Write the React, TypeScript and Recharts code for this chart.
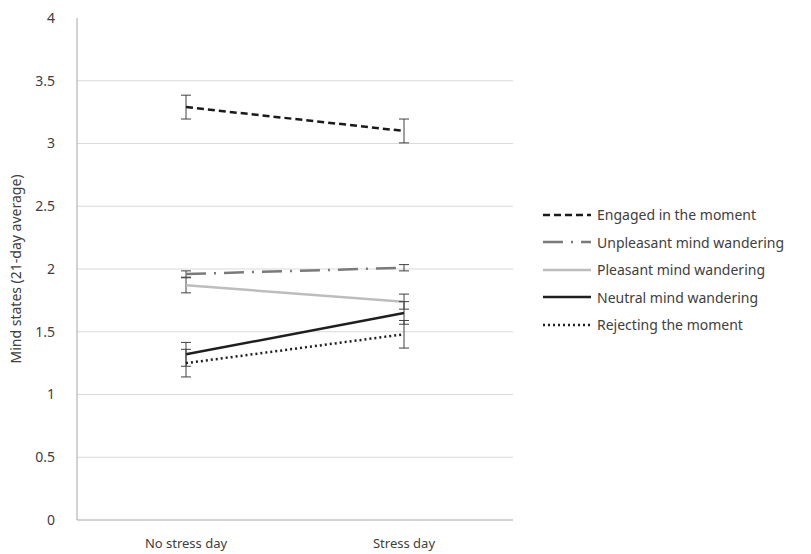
import { CartesianGrid, ErrorBar, Line, LineChart, XAxis, YAxis } from "recharts";

const categories = ["No stress day", "Stress day"];

const engaged = [3.29, 3.1];
const engagedErr = [0.095, 0.095];
const unpleasant = [1.96, 2.01];
const unpleasantErr = [0.025, 0.025];
const pleasant = [1.87, 1.74];
const pleasantErr = [0.06, 0.06];
const neutral = [1.32, 1.65];
const neutralErr = [0.095, 0.09];
const rejecting = [1.25, 1.48];
const rejectingErr = [0.11, 0.11];

const yTicks = [0, 0.5, 1, 1.5, 2, 2.5, 3, 3.5, 4];

// series styling, Excel-ish greys
const SERIES = [
  { key: "engaged", name: "Engaged in the moment", color: "#1a1a1a", dash: "7 4" },
  { key: "unpleasant", name: "Unpleasant mind wandering", color: "#7a7a7a", dash: "20 8 2 8" },
  { key: "pleasant", name: "Pleasant mind wandering", color: "#bdbdbd", dash: undefined },
  { key: "neutral", name: "Neutral mind wandering", color: "#1f1f1f", dash: undefined },
  { key: "rejecting", name: "Rejecting the moment", color: "#1f1f1f", dash: "2 3" },
];

const data = categories.map((cat, i) => ({
  cat,
  engaged: engaged[i],
  engagedErr: engagedErr[i],
  unpleasant: unpleasant[i],
  unpleasantErr: unpleasantErr[i],
  pleasant: pleasant[i],
  pleasantErr: pleasantErr[i],
  neutral: neutral[i],
  neutralErr: neutralErr[i],
  rejecting: rejecting[i],
  rejectingErr: rejectingErr[i],
}));

const FONT = "'Noto Sans', 'Open Sans', sans-serif";

function LegendBox() {
  return (
    <div style={{ position: "absolute", left: 543, top: 201, fontFamily: FONT, fontSize: 14, color: "#404040" }}>
      {SERIES.map((s) => (
        <div key={s.key} style={{ display: "flex", alignItems: "center", height: 27.5 }}>
          <svg width={50} height={10} style={{ marginRight: 4 }}>
            <line x1={0} y1={5} x2={48} y2={5} stroke={s.color} strokeWidth={2.5} strokeDasharray={s.dash} />
          </svg>
          <span style={{ whiteSpace: "nowrap" }}>{s.name}</span>
        </div>
      ))}
    </div>
  );
}

export default function App() {
  return (
    <div style={{ position: "relative", width: 811, height: 554, background: "#fff", overflow: "hidden" }}>
      <style>{`body{margin:0}`}</style>
      <LineChart width={811} height={554} data={data} margin={{ top: 18, right: 298, bottom: 0, left: 16 }}>
        <CartesianGrid vertical={false} stroke="#d9d9d9" horizontalValues={[0.5, 1, 1.5, 2, 2.5, 3, 3.5]} />
        <XAxis
          dataKey="cat"
          scale="band"
          height={34}
          tickLine={false}
          axisLine={{ stroke: "#a6a6a6" }}
          tickMargin={13}
          tick={{ fill: "#404040", fontSize: 13, fontFamily: FONT }}
        />
        <YAxis
          domain={[0, 4]}
          ticks={yTicks}
          width={61}
          tickLine={false}
          axisLine={{ stroke: "#a6a6a6" }}
          tickMargin={16}
          tick={{ fill: "#404040", fontSize: 14, fontFamily: FONT }}
          label={{
            value: "Mind states (21-day average)",
            angle: -90,
            position: "insideLeft",
            offset: 0,
            style: { textAnchor: "middle", fill: "#404040", fontSize: 14, fontFamily: FONT },
          }}
        />
        {SERIES.map((s) => (
          <Line
            key={s.key}
            dataKey={s.key}
            name={s.name}
            stroke={s.color}
            strokeWidth={2.5}
            strokeDasharray={s.dash}
            dot={false}
            activeDot={false}
            isAnimationActive={false}
          >
            <ErrorBar dataKey={`${s.key}Err`} width={5} stroke="#404040" strokeWidth={1} direction="y" isAnimationActive={false} />
          </Line>
        ))}
      </LineChart>
      <LegendBox />
    </div>
  );
}
